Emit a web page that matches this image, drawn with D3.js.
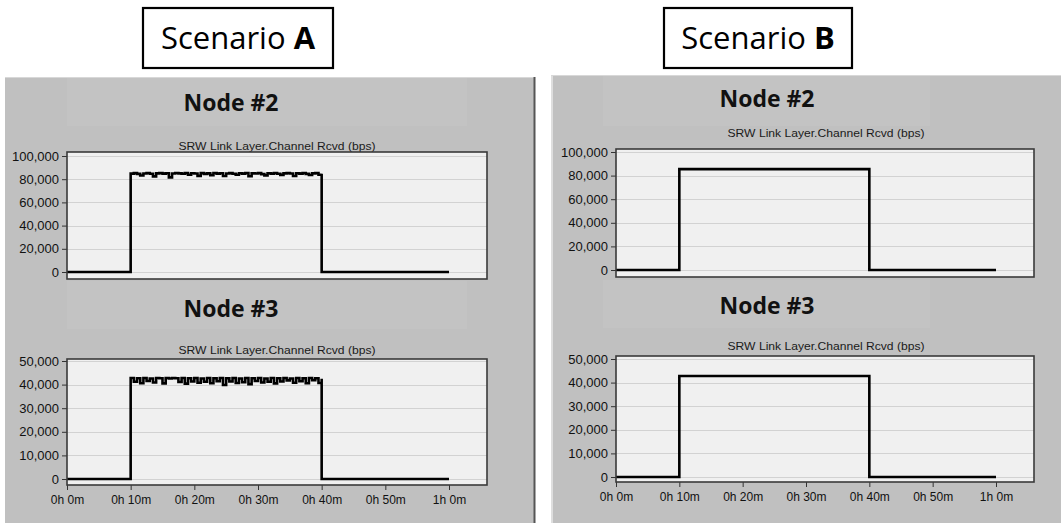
<!DOCTYPE html>
<html><head><meta charset="utf-8">
<script src="https://cdn.jsdelivr.net/npm/d3@7"></script>
<style>
html,body{margin:0;padding:0;background:#fff;}
svg{display:block;}
</style></head>
<body>
<svg id="c" width="1061" height="523"></svg>
<script>
// ---------------- DATA ----------------
const scenarios = ["A", "B"];
const nodeTitles = ["Node #2", "Node #3"];
const subtitle = "SRW Link Layer.Channel Rcvd (bps)";
const xTickMinutes = [0, 10, 20, 30, 40, 50, 60];
const xTickLabels = ["0h 0m", "0h 10m", "0h 20m", "0h 30m", "0h 40m", "0h 50m", "1h 0m"];
const yTicksNode2 = [0, 20000, 40000, 60000, 80000, 100000];
const yTicksNode3 = [0, 10000, 20000, 30000, 40000, 50000];

// step breakpoints (minutes) for the clean Scenario B traces
const stepTimes = [0, 10, 10, 40, 40, 60];
const nodeB2 = [0, 0, 85500, 85500, 0, 0];
const nodeB3 = [0, 0, 42800, 42800, 0, 0];

// Scenario A: traffic starts at 10m, stops at 40m, noisy samples in between
const onTime = 10, offTime = 40, endTime = 60;
const nodeA2 = [84800, 85200, 84600, 83200, 84900, 85300, 84700, 82400, 85000, 85400,
  84800, 85100, 81600, 84900, 85300, 85000, 84700, 85200, 83800, 85100,
  84900, 82900, 85200, 84600, 85000, 83500, 85300, 84800, 85100, 82800,
  84900, 85200, 84700, 83900, 85100, 84800, 85300, 82600, 85000, 84900,
  85200, 84400, 83300, 85100, 84800, 85300, 84700, 83700, 85000, 85200,
  84900, 82700, 85100, 84800, 85300, 84600, 83600, 85000, 85200, 83900, 84800];
const nodeA3 = [42800, 41200, 42700, 40600, 42800, 41500, 42600, 40900, 42800, 42700,
  40500, 42800, 42600, 42800, 42700, 41100, 42800, 40400, 42700, 41300,
  42800, 40800, 42600, 41200, 42800, 40600, 42700, 41400, 42800, 39800,
  42700, 41300, 42800, 40700, 42600, 41000, 42800, 40200, 42700, 41500,
  42800, 40900, 42600, 41200, 42800, 40500, 42700, 41300, 42800, 41800,
  42600, 40800, 42800, 41400, 42700, 40600, 42800, 41900, 42700, 40700, 42500];

// ---------------- BUILD SERIES ----------------
function noisySeries(vals) {
  const pts = [[0, 0], [onTime, 0]];
  vals.forEach((v, i) => pts.push([onTime + i * (offTime - onTime) / (vals.length - 1), v]));
  pts.push([offTime, 0], [endTime, 0]);
  return pts;
}
function stepSeries(vals) { return stepTimes.map((t, i) => [t, vals[i]]); }

const svg = d3.select("#c");
const FONT_AX = "'Liberation Sans', Arial, sans-serif";
const FONT_T = "'Open Sans', 'Noto Sans', sans-serif";

// ---------------- PANELS ----------------
svg.append("rect").attr("x", 5).attr("y", 77).attr("width", 530).attr("height", 446).attr("fill", "#c0c0c0");
svg.append("line").attr("x1", 5).attr("x2", 535).attr("y1", 77.5).attr("y2", 77.5).attr("stroke", "#d8d8d8");
svg.append("line").attr("x1", 534.5).attr("x2", 534.5).attr("y1", 77).attr("y2", 523).attr("stroke", "#555").attr("stroke-width", 2);
svg.append("rect").attr("x", 551).attr("y", 75).attr("width", 510).attr("height", 448).attr("fill", "#c0c0c0");
svg.append("line").attr("x1", 552).attr("x2", 552).attr("y1", 75).attr("y2", 523).attr("stroke", "#dedede").attr("stroke-width", 2);
svg.append("line").attr("x1", 551).attr("x2", 1061).attr("y1", 75.5).attr("y2", 75.5).attr("stroke", "#d8d8d8");

// scenario label boxes
const boxes = [
  {x: 143, y: 8, w: 190, h: 60, cx: 238},
  {x: 664, y: 8, w: 188, h: 60, cx: 758}
];
boxes.forEach((b, i) => {
  svg.append("rect").attr("x", b.x).attr("y", b.y).attr("width", b.w).attr("height", b.h)
    .attr("fill", "#fff").attr("stroke", "#000").attr("stroke-width", 2.2);
  const t = svg.append("text").attr("x", b.cx).attr("y", 49).attr("text-anchor", "middle")
    .attr("font-family", FONT_T).attr("font-size", 31).attr("fill", "#000");
  t.append("tspan").text("Scenario ");
  t.append("tspan").attr("font-weight", "bold").text(scenarios[i]);
});

// ---------------- CHARTS ----------------
const charts = [
  {series: noisySeries(nodeA2), yTicks: yTicksNode2, title: nodeTitles[0],
   x0: 67, x60: 449, rx1: 487, ry0: 152, ry1: 279, yTopPix: 156, yZeroPix: 272,
   titleX: 231, titleY: 111, subX: 277, subY: 150, band: [67, 78, 400, 48], xAxis: false},
  {series: noisySeries(nodeA3), yTicks: yTicksNode3, title: nodeTitles[1],
   x0: 67, x60: 449, rx1: 487, ry0: 359, ry1: 485, yTopPix: 361, yZeroPix: 479,
   titleX: 231, titleY: 317, subX: 277, subY: 354, band: [67, 281, 400, 48], xAxis: true, labY: 504},
  {series: stepSeries(nodeB2), yTicks: yTicksNode2, title: nodeTitles[0],
   x0: 616, x60: 996, rx1: 1034, ry0: 149, ry1: 277, yTopPix: 152, yZeroPix: 270,
   titleX: 767, titleY: 107, subX: 826, subY: 137, band: [603, 76, 327, 50], xAxis: false},
  {series: stepSeries(nodeB3), yTicks: yTicksNode3, title: nodeTitles[1],
   x0: 616, x60: 996, rx1: 1034, ry0: 356, ry1: 482, yTopPix: 359, yZeroPix: 477,
   titleX: 767, titleY: 314, subX: 826, subY: 350, band: [603, 280, 327, 48], xAxis: true, labY: 501}
];

charts.forEach(c => {
  const yMax = c.yTicks[c.yTicks.length - 1];
  const x = d3.scaleLinear().domain([0, 60]).range([c.x0, c.x60]);
  const y = d3.scaleLinear().domain([0, yMax]).range([c.yZeroPix, c.yTopPix]);

  // subtle lighter band behind title
  svg.append("rect").attr("x", c.band[0]).attr("y", c.band[1]).attr("width", c.band[2]).attr("height", c.band[3])
    .attr("fill", "#c3c3c3");

  svg.append("text").attr("x", c.titleX).attr("y", c.titleY).attr("text-anchor", "middle")
    .attr("font-family", FONT_T).attr("font-weight", "bold").attr("font-size", 23).attr("fill", "#111")
    .text(c.title);

  svg.append("text").attr("x", c.subX).attr("y", c.subY).attr("text-anchor", "middle")
    .attr("font-family", FONT_AX).attr("font-size", 11.5).attr("fill", "#1a1a1a")
    .attr("textLength", 197).attr("lengthAdjust", "spacingAndGlyphs")
    .text(subtitle);

  // plot background
  svg.append("rect").attr("x", c.x0).attr("y", c.ry0).attr("width", c.rx1 - c.x0).attr("height", c.ry1 - c.ry0)
    .attr("fill", "#f0f0f0");

  // gridlines
  svg.append("g").selectAll("line").data(c.yTicks).join("line")
    .attr("x1", c.x0).attr("x2", c.rx1)
    .attr("y1", d => Math.round(y(d)) + 0.5).attr("y2", d => Math.round(y(d)) + 0.5)
    .attr("stroke", "#d2d2d2").attr("stroke-width", 1.2);

  // y axis ticks & labels
  const yAx = svg.append("g").attr("transform", `translate(${c.x0},0)`)
    .call(d3.axisLeft(y).tickValues(c.yTicks).tickSize(5).tickPadding(3).tickFormat(d3.format(",")));
  yAx.select(".domain").remove();
  yAx.selectAll("line").attr("stroke", "#333");
  yAx.selectAll("text").attr("font-family", FONT_AX).attr("font-size", 13).attr("fill", "#111");

  if (c.xAxis) {
    const xAx = svg.append("g").attr("transform", `translate(0,${c.ry1})`)
      .call(d3.axisBottom(x).tickValues(xTickMinutes).tickSize(5).tickPadding(0)
        .tickFormat((d, i) => xTickLabels[i]));
    xAx.select(".domain").remove();
    xAx.selectAll("line").attr("stroke", "#333");
    xAx.selectAll("text").attr("font-family", FONT_AX).attr("font-size", 12).attr("fill", "#111")
      .attr("dy", null).attr("y", c.labY - c.ry1);
  }

  // data line
  svg.append("path").datum(c.series)
    .attr("d", d3.line().x(d => x(d[0])).y(d => y(d[1])).curve(d3.curveStepAfter))
    .attr("fill", "none").attr("stroke", "#000").attr("stroke-width", 2.6)
    .attr("stroke-linejoin", "miter");

  // plot frame
  svg.append("rect").attr("x", c.x0).attr("y", c.ry0).attr("width", c.rx1 - c.x0).attr("height", c.ry1 - c.ry0)
    .attr("fill", "none").attr("stroke", "#3a3a3a").attr("stroke-width", 1.6);
});
</script>
</body></html>
